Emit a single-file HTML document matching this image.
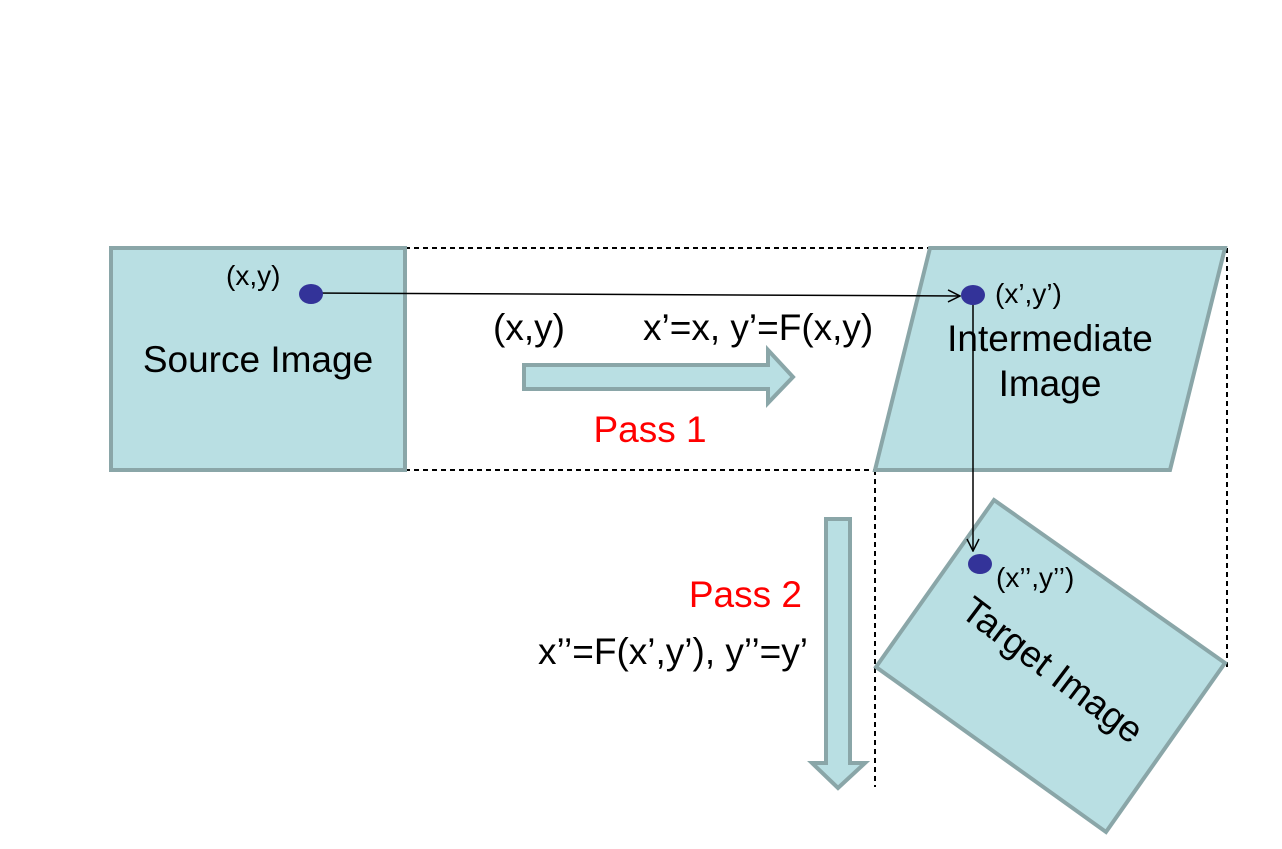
<!DOCTYPE html>
<html><head><meta charset="utf-8"><style>body{margin:0;background:#fff}svg{display:block}text{font-family:"Liberation Sans",sans-serif}</style></head>
<body>
<svg width="1282" height="849" viewBox="0 0 1282 849">
<defs><marker id="ah" markerWidth="14" markerHeight="14" refX="13" refY="7" orient="auto" markerUnits="userSpaceOnUse"><path d="M1,1 L13,7 L1,13" fill="none" stroke="#000" stroke-width="1.5"/></marker></defs>
<g stroke="#000" stroke-width="2" stroke-dasharray="5,4" fill="none">
<line x1="405" y1="248" x2="1227" y2="248"/>
<line x1="405" y1="470" x2="1170" y2="470"/>
<line x1="875" y1="470" x2="875" y2="787"/>
<line x1="1227" y1="248" x2="1227" y2="667"/>
</g>
<rect x="111" y="248" width="294" height="222" fill="#b9dfe3" stroke="#8aa6a8" stroke-width="4"/>
<polygon points="930,248 1225,248 1170,470 875,470" fill="#b9dfe3" stroke="#8aa6a8" stroke-width="4"/>
<polygon points="994,500 1225,663 1106,832 876,667" fill="#b9dfe3" stroke="#8aa6a8" stroke-width="4"/>
<polygon points="524,365 768,365 768,350 793,377 768,403 768,389 524,389" fill="#b9dfe3" stroke="#8aa6a8" stroke-width="4"/>
<polygon points="826,519 850,519 850,763 865,763 838,788 812,763 826,763" fill="#b9dfe3" stroke="#8aa6a8" stroke-width="4"/>
<line x1="311" y1="293" x2="960" y2="296" stroke="#000" stroke-width="1.5" marker-end="url(#ah)"/>
<line x1="973" y1="295" x2="973" y2="551" stroke="#000" stroke-width="1.5" marker-end="url(#ah)"/>
<ellipse cx="311" cy="294" rx="12" ry="10" fill="#333399"/>
<ellipse cx="973" cy="295" rx="12" ry="10" fill="#333399"/>
<ellipse cx="980" cy="564" rx="12" ry="10" fill="#333399"/>
<text x="258" y="372" font-size="37" text-anchor="middle">Source Image</text>
<text x="226" y="285" font-size="28">(x,y)</text>
<text x="493" y="340" font-size="37">(x,y)</text>
<text x="643" y="340" font-size="37">x’=x, y’=F(x,y)</text>
<text x="650" y="442" font-size="37" fill="#ff0000" text-anchor="middle">Pass 1</text>
<text x="1050" y="351" font-size="37" text-anchor="middle">Intermediate</text>
<text x="1050" y="396" font-size="37" text-anchor="middle">Image</text>
<text x="995" y="303" font-size="28">(x’,y’)</text>
<text x="996" y="587" font-size="28">(x’’,y’’)</text>
<text x="802" y="607" font-size="37" fill="#ff0000" text-anchor="end">Pass 2</text>
<text x="808" y="664" font-size="37" text-anchor="end">x’’=F(x’,y’), y’’=y’</text>
<text x="0" y="0" font-size="37" text-anchor="middle" transform="translate(1045,680) rotate(37)">Target Image</text>
</svg>
</body></html>
